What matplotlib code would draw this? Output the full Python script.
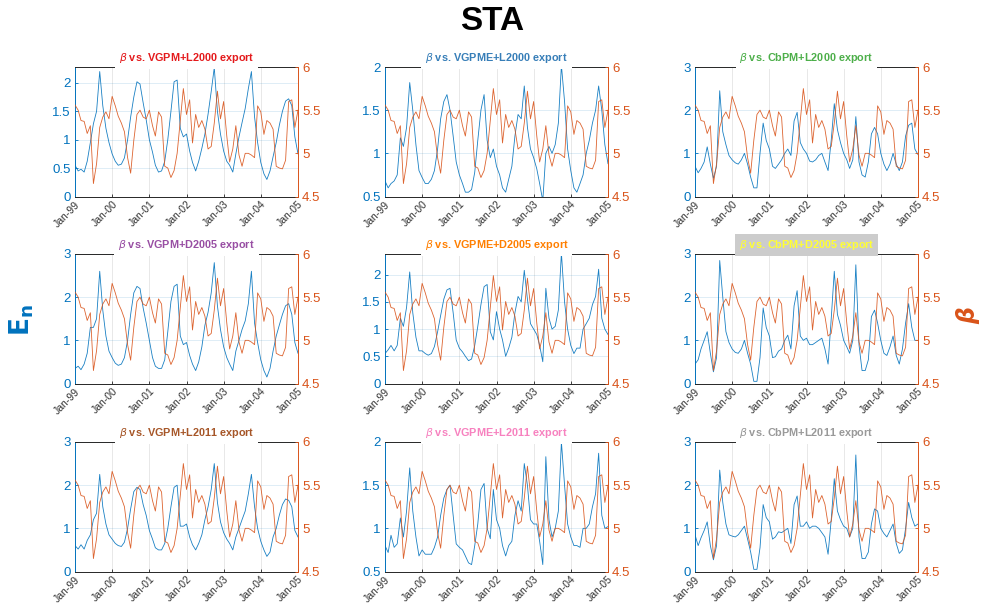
import numpy as np
import pandas as pd
import matplotlib
matplotlib.use('Agg')
import matplotlib.pyplot as plt
import matplotlib.dates as mdates

plt.rcParams['font.family'] = ['Liberation Sans', 'DejaVu Sans']
plt.rcParams['mathtext.fontset'] = 'dejavusans'

dates = pd.date_range('1999-01-01', periods=73, freq='MS')
tick_dates = pd.date_range('1999-01-01', periods=7, freq='12MS')
tick_labels = ['Jan-99', 'Jan-00', 'Jan-01', 'Jan-02', 'Jan-03', 'Jan-04', 'Jan-05']

beta = [5.56, 5.50, 5.38, 5.37, 5.23, 5.32, 4.65, 4.88, 5.30, 5.42, 5.48, 5.40,
        5.66, 5.55, 5.43, 5.35, 5.25, 4.95, 4.77, 5.15, 5.45, 5.50, 5.42, 5.40,
        5.50, 5.32, 5.20, 5.48, 5.42, 4.85, 4.83, 4.72, 4.80, 5.00, 5.38, 5.75,
        5.45, 5.62, 5.12, 5.45, 5.30, 5.38, 5.28, 5.05, 5.08, 5.35, 5.72, 5.40,
        5.60, 5.20, 4.90, 5.05, 5.32, 4.98, 4.85, 5.00, 5.00, 4.98, 4.95, 5.55,
        5.48, 5.22, 5.38, 5.35, 5.28, 4.85, 4.83, 4.82, 4.92, 5.60, 5.62, 5.30,
        5.50]

en_vgpm_l2000 = [0.55, 0.45, 0.48, 0.43, 0.62, 0.95, 1.28, 1.5, 2.2, 1.6, 1.2, 0.95,
                 0.75, 0.62, 0.55, 0.57, 0.68, 1.0, 1.4, 1.75, 2.02, 1.98, 1.65, 1.35,
                 1.0, 0.78, 0.55, 0.43, 0.45, 0.62, 1.0, 1.5, 2.02, 2.05, 1.2, 1.05,
                 1.1, 0.8, 0.6, 0.45, 0.62, 0.85, 1.1, 1.45, 1.85, 2.27, 1.5, 1.1,
                 0.8, 0.62, 0.55, 0.43, 0.75, 1.05, 1.3, 1.55, 1.9, 2.2, 1.4, 0.95,
                 0.6, 0.4, 0.3, 0.45, 0.7, 0.95, 1.25, 1.5, 1.68, 1.72, 1.6, 1.05,
                 0.75]
en_vgpme_l2000 = [0.68, 0.6, 0.65, 0.68, 0.75, 1.18, 1.08, 1.3, 1.82, 1.5, 1.1, 0.8,
                  0.72, 0.65, 0.65, 0.7, 0.8, 1.05, 1.4, 1.6, 1.68, 1.5, 1.2, 0.9,
                  0.75, 0.65, 0.55, 0.55, 0.58, 0.78, 1.15, 1.5, 1.68, 1.15, 0.95, 1.05,
                  0.85, 0.75, 0.6, 0.55, 0.7, 0.85, 1.2, 1.45, 1.4, 1.78, 1.3, 1.05,
                  0.95, 0.82, 0.65, 0.45, 1.0, 1.08, 1.0, 1.1, 1.35, 2.02, 1.6, 1.05,
                  0.8, 0.6, 0.55, 0.65, 0.75, 1.0, 1.15, 1.35, 1.5, 1.78, 1.5, 1.1,
                  0.88]
en_cbpm_l2000 = [0.7, 0.55, 0.65, 0.8, 1.15, 0.75, 0.42, 0.7, 2.45, 1.5, 1.2, 0.95,
                 0.85, 0.78, 0.75, 0.85, 1.0, 0.75, 0.45, 0.2, 0.2, 1.0, 1.7, 1.3,
                 1.1, 0.7, 0.65, 0.75, 0.85, 1.0, 1.1, 0.95, 1.75, 1.95, 1.25, 1.1,
                 1.0, 0.82, 0.8, 0.85, 0.95, 1.0, 0.8, 0.6, 1.3, 2.15, 1.55, 1.25,
                 1.0, 0.85, 0.65, 0.85, 1.85, 0.8, 0.5, 0.45, 0.8, 1.45, 1.6, 1.45,
                 1.0, 0.75, 0.6, 0.75, 1.0, 0.75, 0.6, 0.8, 1.4, 1.65, 1.7, 1.1,
                 0.97]
en_vgpm_d2005 = [0.35, 0.4, 0.32, 0.45, 0.7, 1.3, 1.3, 1.5, 2.6, 1.7, 1.1, 0.75,
                 0.6, 0.47, 0.42, 0.45, 0.6, 1.0, 1.6, 2.1, 2.25, 2.2, 1.75, 1.4,
                 1.0, 0.6, 0.4, 0.35, 0.35, 0.55, 1.2, 1.9, 2.25, 2.3, 1.1, 0.9,
                 0.95, 0.65, 0.45, 0.3, 0.5, 0.85, 1.35, 1.65, 2.1, 2.8, 1.8, 1.25,
                 0.85, 0.6, 0.45, 0.3, 0.75, 1.0, 1.25, 1.45, 1.85, 2.6, 1.4, 0.95,
                 0.55, 0.3, 0.15, 0.35, 0.75, 1.1, 1.35, 1.6, 1.8, 1.85, 1.6, 0.95,
                 0.7]
en_vgpme_d2005 = [0.55, 0.62, 0.7, 0.6, 0.7, 1.2, 1.05, 1.4, 2.05, 1.3, 0.85, 0.6,
                  0.6, 0.55, 0.52, 0.55, 0.68, 0.95, 1.25, 1.55, 1.72, 1.75, 1.3, 0.8,
                  0.65, 0.58, 0.5, 0.42, 0.45, 0.7, 1.05, 1.45, 1.78, 1.82, 0.95, 0.8,
                  1.32, 1.0, 0.8, 0.5, 0.65, 0.85, 1.3, 1.6, 1.5, 2.08, 1.55, 1.1,
                  1.0, 0.9, 0.7, 0.4, 1.75, 1.2, 1.0, 1.05, 1.35, 2.4, 1.5, 1.0,
                  0.7, 0.55, 0.65, 0.65, 1.0, 1.1, 1.2, 1.45, 1.6, 2.1, 1.2, 1.0,
                  0.9]
en_cbpm_d2005 = [0.45, 0.55, 0.8, 1.0, 1.2, 0.7, 0.27, 0.6, 2.85, 2.0, 1.2, 0.95,
                 0.8, 0.72, 0.7, 0.8, 1.0, 0.7, 0.45, 0.05, 0.05, 0.6, 1.75, 1.3,
                 1.1, 0.6, 0.62, 0.75, 0.8, 1.0, 1.12, 0.8, 1.8, 2.15, 1.1, 1.0,
                 1.05, 0.9, 0.9, 0.95, 1.0, 1.05, 0.8, 0.45, 1.5, 2.6, 1.6, 1.35,
                 1.0, 0.85, 0.7, 1.0, 2.75, 0.9, 0.3, 0.3, 0.55, 1.55, 1.7, 1.4,
                 1.0, 0.7, 0.65, 0.85, 1.1, 0.65, 0.45, 0.8, 1.4, 1.85, 1.3, 1.0,
                 1.0]
en_vgpm_l2011 = [0.6, 0.52, 0.62, 0.52, 0.72, 0.85, 1.2, 1.35, 2.25, 1.5, 1.1, 0.85,
                 0.75, 0.65, 0.6, 0.58, 0.68, 1.0, 1.45, 1.85, 1.95, 1.9, 1.55, 1.3,
                 0.95, 0.75, 0.55, 0.5, 0.5, 0.65, 1.0, 1.5, 1.95, 2.0, 1.05, 1.05,
                 1.1, 0.8, 0.62, 0.5, 0.65, 0.85, 1.2, 1.5, 1.9, 2.5, 1.6, 1.15,
                 0.9, 0.75, 0.65, 0.5, 0.8, 1.0, 1.2, 1.4, 1.8, 2.25, 1.5, 1.0,
                 0.7, 0.5, 0.35, 0.45, 0.8, 1.0, 1.3, 1.55, 1.68, 1.65, 1.5, 0.95,
                 0.8]
en_vgpme_l2011 = [0.8, 0.72, 0.92, 0.78, 0.82, 1.12, 0.9, 1.2, 1.7, 1.2, 0.9, 0.68,
                  0.75, 0.7, 0.7, 0.7, 0.78, 0.9, 1.15, 1.35, 1.45, 1.5, 1.15, 0.82,
                  0.78, 0.75, 0.68, 0.6, 0.58, 0.8, 1.05, 1.45, 1.52, 1.0, 0.88, 1.45,
                  1.1, 1.0, 0.8, 0.68, 0.8, 0.85, 1.15, 1.32, 1.2, 1.75, 1.5, 1.1,
                  1.05, 1.05, 0.85, 0.58, 1.83, 1.1, 0.9, 1.0, 1.2, 2.0, 1.5, 1.05,
                  0.9, 0.8, 0.8, 0.78, 1.0, 1.0, 1.05, 1.25, 1.4, 1.87, 1.15, 1.0,
                  1.02]
en_cbpm_l2011 = [0.85, 0.6, 0.78, 0.95, 1.15, 0.6, 0.27, 0.6, 2.35, 1.6, 1.1, 0.85,
                 0.82, 0.8, 0.85, 0.95, 1.05, 0.75, 0.45, 0.05, 0.05, 0.55, 1.55, 1.25,
                 1.15, 0.75, 0.8, 0.92, 0.9, 0.95, 1.0, 0.65, 1.55, 1.75, 1.05, 1.05,
                 1.15, 1.0, 1.05, 1.05, 1.0, 0.9, 0.8, 0.4, 1.2, 2.15, 1.4, 1.2,
                 1.05, 1.0, 0.8, 1.0, 2.7, 0.8, 0.3, 0.3, 0.45, 1.1, 1.45, 1.4,
                 1.0, 0.88, 0.8, 0.95, 1.1, 0.65, 0.42, 0.5, 1.0, 1.6, 1.25, 1.05,
                 1.1]

en_series = [en_vgpm_l2000, en_vgpme_l2000, en_cbpm_l2000,
             en_vgpm_d2005, en_vgpme_d2005, en_cbpm_d2005,
             en_vgpm_l2011, en_vgpme_l2011, en_cbpm_l2011]
titles = ['VGPM+L2000', 'VGPME+L2000', 'CbPM+L2000',
          'VGPM+D2005', 'VGPME+D2005', 'CbPM+D2005',
          'VGPM+L2011', 'VGPME+L2011', 'CbPM+L2011']
title_colors = ['#E41A1C', '#377EB8', '#4DAF4A', '#984EA3', '#FF7F00',
                '#FFFF33', '#A65628', '#F781BF', '#999999']
left_ylims = [(0, 2.28), (0.5, 2.0), (0, 3), (0, 3), (0, 2.38), (0, 3),
              (0, 3), (0.5, 2.0), (0, 3)]
left_ticks = [[0, 0.5, 1, 1.5, 2], [0.5, 1, 1.5, 2], [0, 1, 2, 3],
              [0, 1, 2, 3], [0, 0.5, 1, 1.5, 2], [0, 1, 2, 3],
              [0, 1, 2, 3], [0.5, 1, 1.5, 2], [0, 1, 2, 3]]
right_ylim = (4.5, 6)
right_ticks = [4.5, 5, 5.5, 6]

BLUE = '#0072BD'
ORANGE = '#D95319'
DARK = '#262626'

W, H = 983, 609
fig = plt.figure(figsize=(W / 100, H / 100), dpi=100)

col_left = [75, 385, 695]
row_top = [67, 254, 442]
aw, ah = 223, 129.5

for k in range(9):
    r, c = divmod(k, 3)
    x0 = col_left[c] / W
    y0 = 1 - (row_top[r] + ah) / H
    ax = fig.add_axes([x0, y0, aw / W, ah / H])
    ax2 = ax.twinx()

    ax.plot(dates, en_series[k], color=BLUE, lw=0.6, alpha=0.9, zorder=3)
    ax2.plot(dates, beta, color=ORANGE, lw=0.6, alpha=0.9)

    ax.set_xlim(dates[0], dates[-1])
    ax.set_ylim(*left_ylims[k])
    ax.set_yticks(left_ticks[k])
    ax.set_yticklabels([('%g' % v) for v in left_ticks[k]])
    ax2.set_ylim(*right_ylim)
    ax2.set_yticks(right_ticks)
    ax2.set_yticklabels([('%g' % v) for v in right_ticks])

    ax.set_xticks(tick_dates)
    ax.set_xticklabels(tick_labels, rotation=45, ha='right',
                       rotation_mode='anchor', fontsize=7.5, color='#333333')

    ax.tick_params(axis='y', colors=BLUE, labelsize=9.5, direction='in',
                   length=2.5, width=0.6, pad=3)
    ax.tick_params(axis='x', colors=DARK, direction='in', length=2.5,
                   width=0.6, pad=2)
    ax.tick_params(axis='x', labelcolor='#333333')
    ax2.tick_params(axis='y', colors=ORANGE, labelsize=9.5, direction='in',
                    length=2.5, width=0.6, pad=3)

    ax.grid(axis='x', color=DARK, alpha=0.12, lw=0.6)
    ax.grid(axis='y', color=BLUE, alpha=0.15, lw=0.6)
    ax.set_axisbelow(True)

    ax.spines['left'].set_color(BLUE)
    ax.spines['right'].set_visible(False)
    ax.spines['bottom'].set_color(DARK)
    ax.spines['top'].set_color(DARK)
    for s in ('left', 'bottom', 'top'):
        ax.spines[s].set_linewidth(0.7)
    for s in ('left', 'top', 'bottom'):
        ax2.spines[s].set_visible(False)
    ax2.spines['right'].set_color(ORANGE)
    ax2.spines['right'].set_linewidth(0.7)

    bg = '#CCCCCC' if k == 5 else 'white'
    ax2.annotate(r'$\beta$' + ' vs. ' + titles[k] + ' export',
                 xy=(0.5, 1), xycoords='axes fraction',
                 xytext=(0, 6.3), textcoords='offset points',
                 ha='center', va='center', fontsize=7.8, fontweight='bold',
                 color=title_colors[k], annotation_clip=False, zorder=10,
                 bbox=dict(boxstyle='square,pad=0.36', fc=bg, ec='none'))

fig.text(0.501, 1 - 22 / H, 'STA', ha='center', va='center',
         fontsize=24, fontweight='bold', color='black')
fig.text(22 / W, 1 - 320 / H, r'$\mathbf{E_n}$', ha='center', va='center',
         rotation=90, fontsize=19, color=BLUE)
fig.text(968 / W, 1 - 315 / H, r'$\boldsymbol{\beta}$', ha='center', va='center',
         rotation=90, fontsize=17, color=ORANGE)

fig.savefig('out.png', dpi=100)
